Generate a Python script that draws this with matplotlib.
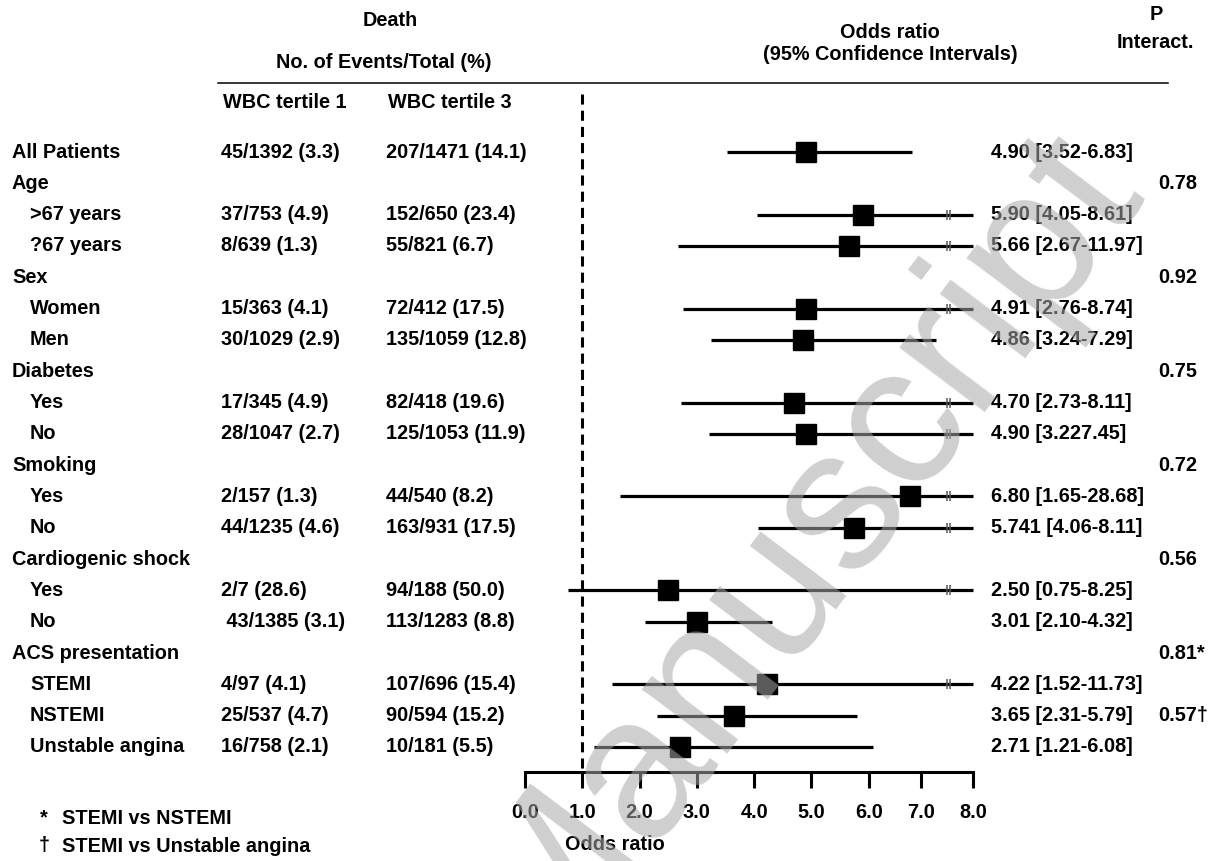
import matplotlib
matplotlib.use("Agg")
import matplotlib.pyplot as plt
import matplotlib.transforms as mtransforms
import numpy as np

W, H, DPI = 1212, 861, 100

# ---------------- data ----------------
row_labels = ["All Patients", "Age", ">67 years", "?67 years", "Sex", "Women", "Men",
              "Diabetes", "Yes", "No", "Smoking", "Yes", "No", "Cardiogenic shock",
              "Yes", "No", "ACS presentation", "STEMI", "NSTEMI", "Unstable angina"]
is_group = [True, True, False, False, True, False, False, True, False, False, True,
            False, False, True, False, False, True, False, False, False]
tertile1 = ["45/1392 (3.3)", "", "37/753 (4.9)", "8/639 (1.3)", "", "15/363 (4.1)",
            "30/1029 (2.9)", "", "17/345 (4.9)", "28/1047 (2.7)", "", "2/157 (1.3)",
            "44/1235 (4.6)", "", "2/7 (28.6)", " 43/1385 (3.1)", "", "4/97 (4.1)",
            "25/537 (4.7)", "16/758 (2.1)"]
tertile3 = ["207/1471 (14.1)", "", "152/650 (23.4)", "55/821 (6.7)", "", "72/412 (17.5)",
            "135/1059 (12.8)", "", "82/418 (19.6)", "125/1053 (11.9)", "", "44/540 (8.2)",
            "163/931 (17.5)", "", "94/188 (50.0)", "113/1283 (8.8)", "", "107/696 (15.4)",
            "90/594 (15.2)", "10/181 (5.5)"]
nan = np.nan
or_est = [4.90, nan, 5.90, 5.66, nan, 4.91, 4.86, nan, 4.70, 4.90, nan, 6.80, 5.74,
          nan, 2.50, 3.01, nan, 4.22, 3.65, 2.71]
ci_low = [3.52, nan, 4.05, 2.67, nan, 2.76, 3.24, nan, 2.73, 3.22, nan, 1.65, 4.06,
          nan, 0.75, 2.10, nan, 1.52, 2.31, 1.21]
# upper limits as drawn (Diabetes "No" is drawn truncated beyond the axis end)
ci_high = [6.83, nan, 8.61, 11.97, nan, 8.74, 7.29, nan, 8.11, 8.45, nan, 28.68, 8.11,
           nan, 8.25, 4.32, nan, 11.73, 5.79, 6.08]
or_text = ["4.90 [3.52-6.83]", "", "5.90 [4.05-8.61]", "5.66 [2.67-11.97]", "",
           "4.91 [2.76-8.74]", "4.86 [3.24-7.29]", "", "4.70 [2.73-8.11]",
           "4.90 [3.227.45]", "", "6.80 [1.65-28.68]", "5.741 [4.06-8.11]", "",
           "2.50 [0.75-8.25]", "3.01 [2.10-4.32]", "", "4.22 [1.52-11.73]",
           "3.65 [2.31-5.79]", "2.71 [1.21-6.08]"]
p_interact = ["", "0.78", "", "", "0.92", "", "", "0.75", "", "", "0.72", "", "", "0.56",
              "", "", "0.81*", "", "0.57\u2020", ""]
xticks = [0, 1, 2, 3, 4, 5, 6, 7, 8]
ref_value = 1.0
axis_max = 8.0
break_at = 7.5
footnotes = [("*", "STEMI vs NSTEMI"), ("\u2020", "STEMI vs Unstable angina")]

# the original axis is slightly compressed above 6.0
knee, squeeze = 6.0, 0.91


def fwd(x):
    x = np.asarray(x, dtype=float)
    return np.where(x <= knee, x, knee + (x - knee) * squeeze)


def inv(u):
    u = np.asarray(u, dtype=float)
    return np.where(u <= knee, u, knee + (u - knee) / squeeze)


# ---------------- style ----------------
plt.rcParams['font.family'] = ['Liberation Sans', 'DejaVu Sans']
plt.rcParams['font.weight'] = 'bold'
FS = 14.3

fig = plt.figure(figsize=(W / DPI, H / DPI), dpi=DPI)
fig.patch.set_facecolor('white')

x0_px, x1_px = 525, 973
row0_px, rowN_px = 152, 747
n = len(row_labels)
pitch = (rowN_px - row0_px) / (n - 1)

ax = fig.add_axes([x0_px / W, 0, (x1_px - x0_px) / W, 1])
ax.patch.set_visible(False)
ax.set_xscale('function', functions=(fwd, inv))
ax.set_xlim(0, axis_max)
ax.set_ylim((H - row0_px) / pitch, -row0_px / pitch)


def prow(ypx):
    return (ypx - row0_px) / pitch


def fx(xpx):
    return xpx / W


def fy(ypx):
    return 1 - ypx / H


blend = mtransforms.blended_transform_factory(fig.transFigure, ax.transData)

# reference dashed line
ax.plot([ref_value, ref_value], [prow(94), prow(772)], color='black', lw=2.2,
        dashes=(3.3, 2.0), clip_on=False, zorder=2)

# forest marks
for i in range(n):
    if np.isnan(or_est[i]):
        continue
    lo, hi = ci_low[i], ci_high[i]
    hi_d = min(hi, axis_max)
    ax.plot([lo, hi_d], [i, i], color='black', lw=2.3, solid_capstyle='butt',
            clip_on=False, zorder=3)
    if hi > axis_max:
        ax.plot([break_at, break_at + 0.06], [i, i], ls='none', marker='|', ms=7,
                mew=1.1, color='0.35', clip_on=False, zorder=4)
    ax.plot([or_est[i]], [i], marker='s', ms=14, color='black', mec='black',
            clip_on=False, zorder=5)

# x axis
for s in ['top', 'left', 'right']:
    ax.spines[s].set_visible(False)
ax.spines['bottom'].set_position(('data', prow(772)))
ax.spines['bottom'].set_linewidth(2.2)
ax.set_yticks([])
ax.set_xticks(xticks)
ax.set_xticklabels([f"{v:.1f}" for v in xticks])
ax.xaxis.set_minor_locator(matplotlib.ticker.NullLocator())
ax.tick_params(axis='x', direction='out', length=11.5, width=2.2, pad=11,
               labelsize=FS)
fig.text(fx(565), fy(845), "Odds ratio", fontsize=FS, ha='left', va='center')

# text columns
for i in range(n):
    lx = 12 if is_group[i] else 30
    fig.text(fx(lx), i, row_labels[i], transform=blend, fontsize=FS, ha='left', va='center')
    if tertile1[i]:
        fig.text(fx(221), i, tertile1[i], transform=blend, fontsize=FS, ha='left', va='center')
    if tertile3[i]:
        fig.text(fx(386), i, tertile3[i], transform=blend, fontsize=FS, ha='left', va='center')
    if or_text[i]:
        fig.text(fx(991), i, or_text[i], transform=blend, fontsize=FS, ha='left', va='center')
    if p_interact[i]:
        fig.text(fx(1158), i, p_interact[i], transform=blend, fontsize=FS, ha='left', va='center')

# headers
fig.text(fx(390), fy(21), "Death", fontsize=FS, ha='center', va='center')
fig.text(fx(384), fy(62), "No. of Events/Total (%)", fontsize=FS, ha='center', va='center')
fig.text(fx(223), fy(103), "WBC tertile 1", fontsize=FS, ha='left', va='center')
fig.text(fx(388), fy(103), "WBC tertile 3", fontsize=FS, ha='left', va='center')
fig.text(fx(890), fy(32), "Odds ratio", fontsize=FS, ha='center', va='center')
fig.text(fx(890), fy(55), "(95% Confidence Intervals)", fontsize=FS, ha='center', va='center')
fig.text(fx(1156), fy(14), "P", fontsize=FS, ha='center', va='center')
fig.text(fx(1155), fy(43), "Interact.", fontsize=FS, ha='center', va='center')
fig.add_artist(plt.Line2D([fx(218), fx(1168)], [fy(83), fy(83)], color='black', lw=1.1,
                          transform=fig.transFigure))

# footnotes
for k, (sym, txt) in enumerate(footnotes):
    yy = 818 + 28 * k
    fig.text(fx(44), fy(yy), sym, fontsize=FS, ha='center', va='center')
    fig.text(fx(62), fy(yy), txt, fontsize=FS, ha='left', va='center')

# watermark
fig.text(fx(800), fy(548), "Manuscript", fontsize=146, fontweight='normal',
         color='#a8a8a8', alpha=0.55, rotation=53, rotation_mode='anchor',
         ha='center', va='center', zorder=10)

fig.savefig("out.png", dpi=DPI, facecolor='white')
